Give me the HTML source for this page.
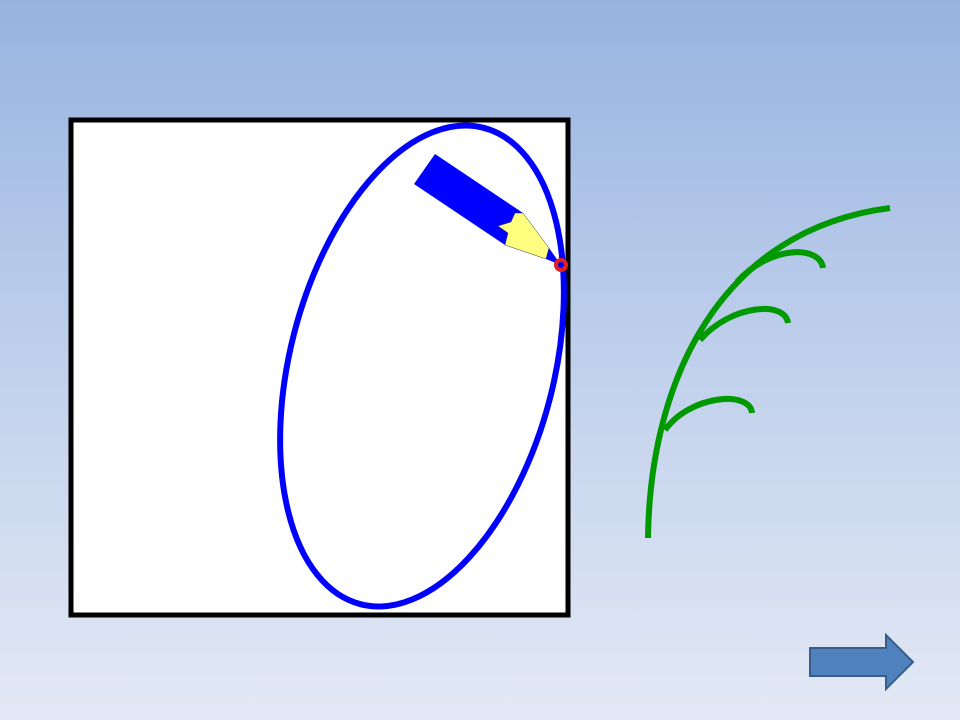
<!DOCTYPE html>
<html><head><meta charset="utf-8"><style>
html,body{margin:0;padding:0;width:960px;height:720px;overflow:hidden}
body{background:linear-gradient(#97b3e0 0%,#c0d0ec 50%,#e3e9f5 100%)}
</style></head><body>
<svg width="960" height="720" style="position:absolute;left:0;top:0">
<rect x="71" y="120" width="497" height="495" fill="#fff" stroke="#000" stroke-width="5"/>
<ellipse cx="422" cy="366" rx="132" ry="246" transform="rotate(14.5 422 366)" fill="none" stroke="#0000ff" stroke-width="6"/>
<g>
<polygon points="435,154 414,184 505,245 508,233 498,226 511,222 515,213 523,213" fill="#0000ff"/>
<polygon points="523,213 515,213 511,222 498,226 508,233 505,245 546,259 549,248" fill="#ffff80" stroke="#333" stroke-width="0.5"/>
<polygon points="546,259 549,248 561,265" fill="#0000ff"/>
<circle cx="561" cy="265" r="5" fill="#0000ff" stroke="#e02020" stroke-width="4"/>
</g>
<g fill="none" stroke="#009900" stroke-width="6">
<path d="M648,538 C650,380 720,230 890,208"/>
<path d="M737,282 C770,245 820,245 823,268"/>
<path d="M700,340 C730,305 785,300 788,323"/>
<path d="M665,430 C690,395 750,390 752,413"/>
</g>
<polygon points="810,648 886,648 886,635 913,662 886,689 886,676 810,676" fill="#4f81bd" stroke="#385d8a" stroke-width="2"/>
</svg>
</body></html>
